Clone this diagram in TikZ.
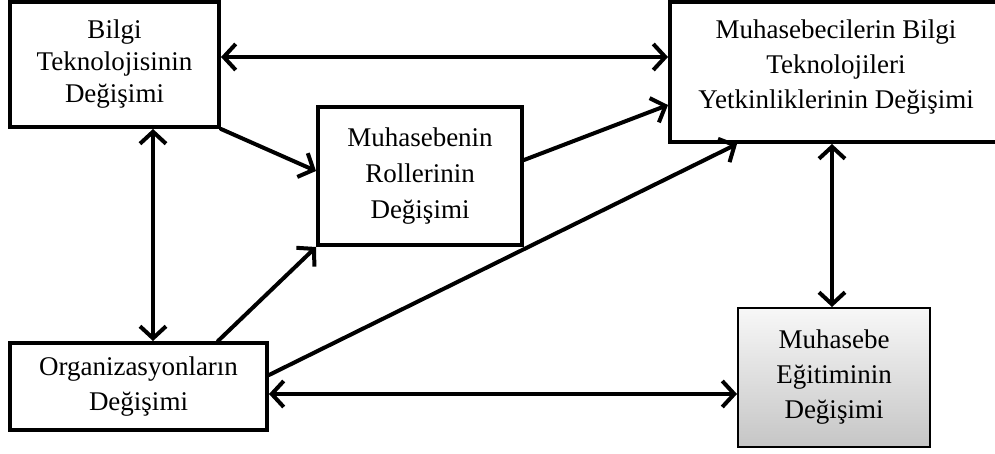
\documentclass[tikz,border=0pt]{standalone}
\usepackage{fontspec}
\setmainfont{Liberation Serif}
\usetikzlibrary{arrows.meta,shadows}
\tikzset{box/.style={draw,line width=2pt,fill=white,align=center,inner sep=2pt,font=\fontsize{13.5pt}{17.5pt}\selectfont,drop shadow={opacity=0.2,shadow xshift=1pt,shadow yshift=-1pt}},
  greybox/.style={draw,line width=1pt,top color=gray!6,bottom color=gray!45,align=center,inner sep=2pt,font=\fontsize{13.5pt}{17.5pt}\selectfont},
  link/.style={line width=2pt}}

\begin{document}
\begin{tikzpicture}[x=0.5pt,y=-0.5pt,>={Straight Barb[length=6pt,width=13pt]},line cap=round]

\clip (0,0) rectangle (995,454);

% Nodes
\node[box,minimum width=104.5pt,minimum height=62.5pt,font=\fontsize{13.5pt}{16pt}\selectfont] (bilgi) at (114.5,64.5) {Bilgi\\Teknolojisinin\\Değişimi};
\node[box,minimum width=102pt,minimum height=69pt,font=\fontsize{13.5pt}{18pt}\selectfont] (roller) at (420,176) {Muhasebenin\\Rollerinin\\Değişimi};
\node[box,minimum width=166pt,minimum height=70pt,text depth=8pt] (yetkin) at (836,72) {Muhasebecilerin Bilgi\\Teknolojileri\\Yetkinliklerinin Değişimi};
\node[box,minimum width=128.5pt,minimum height=43.5pt] (org) at (138.5,386.5) {Organizasyonların\\Değişimi};
\node[greybox,minimum width=96pt,minimum height=69.5pt] (egitim) at (834,377.5) {Muhasebe\\Eğitiminin\\Değişimi};

% The two-way links
\draw[link,<->] ([yshift=3.75pt]bilgi.east) -- ([yshift=7.5pt]yetkin.west);
\draw[link,<->] ([xshift=19.25pt]bilgi.south) -- ([xshift=19.25pt]bilgi.south |- org.north);
\draw[link,<->] ([xshift=-2pt]yetkin.south) -- ([xshift=-2pt]yetkin.south |- egitim.north);
\draw[link,<->] ([yshift=-3.75pt]org.east) -- ([yshift=-3.75pt]org.east -| egitim.west);

% The one-way links
\draw[link,->] (bilgi.south east) -- ([yshift=2.5pt]roller.west);
\draw[link,->] ([yshift=8pt]roller.east) -- ([yshift=-16.5pt]yetkin.west);
\draw[link,->] ([xshift=39.75pt]org.north) -- (roller.south west);
\draw[link,->] ([yshift=5.75pt]org.east) -- ([xshift=-49.5pt]yetkin.south);

\end{tikzpicture}
\end{document}
